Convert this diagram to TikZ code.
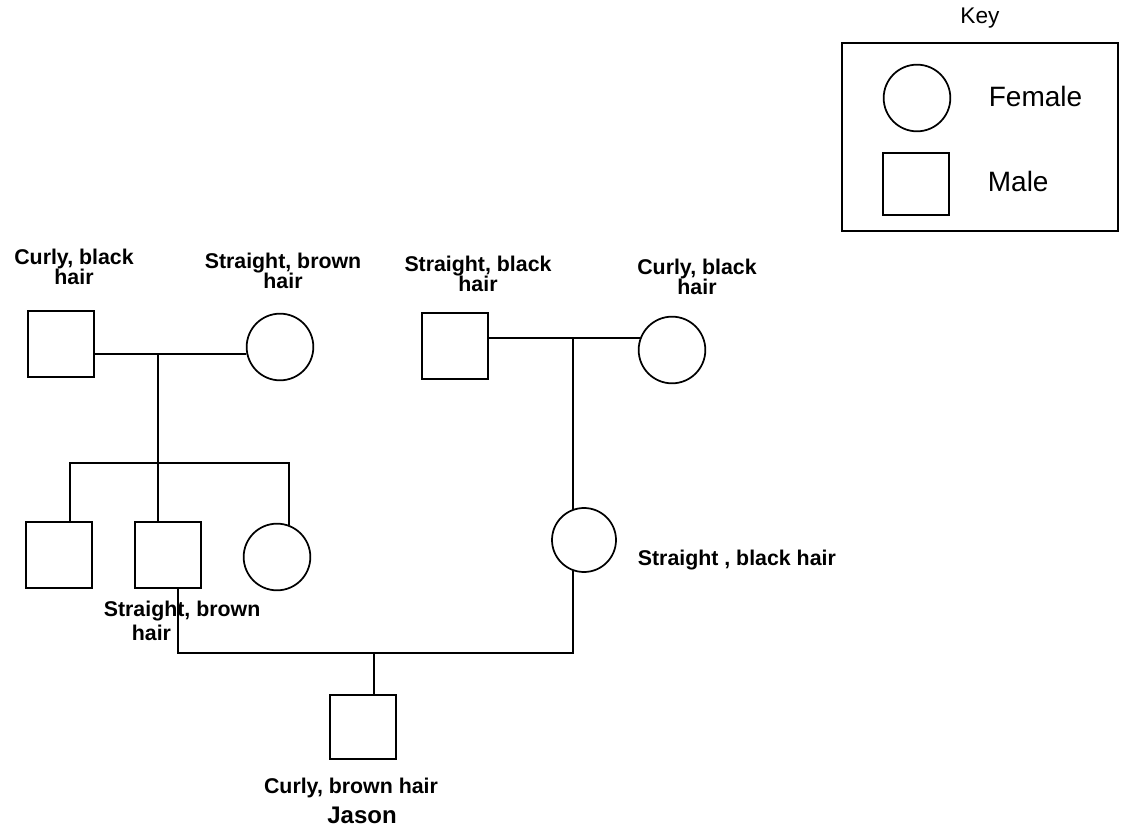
\documentclass[tikz,border=0pt]{standalone}
\usepackage{fontspec}
\setmainfont{Liberation Sans}
\usepackage{tikz}
\begin{document}
\begin{tikzpicture}[x=0.75pt,y=-0.75pt,line width=1.3pt,line cap=round,
  male/.style={draw,rectangle,minimum size=50pt,inner sep=0pt},
  female/.style={draw,circle,minimum size=50pt,inner sep=0pt},
  lbl/.style={font=\fontsize{16}{15}\selectfont\bfseries,align=center,inner sep=0pt}]
\useasboundingbox (0,0) rectangle (1121,831);
\node[font=\fontsize{17}{17}\selectfont] (keyttl) at (980,18) {Key};
\draw (842,43) rectangle (1118,231);
\node[female] (kf) at (917,98) {};
\node[anchor=west,inner sep=0pt,font=\fontsize{21}{21}\selectfont] (kft) at (988,96) {Female};
\node[male,minimum height=47pt] (km) at (916,184) {};
\node[anchor=west,inner sep=0pt,font=\fontsize{21}{21}\selectfont] (kmt) at (987,181) {Male};
\node[male] (A) at (61,344) {};
\node[female] (B) at (280,347) {};
\node[male] (F) at (455,346) {};
\node[female] (G) at (672,350) {};
\node[male,minimum height=49pt] (C) at (59,555) {};
\node[male,minimum height=49pt] (D) at (168,555) {};
\node[female] (E) at (277,557) {};
\node[female,minimum size=48pt] (H) at (584,540) {};
\node[male,minimum height=48pt] (J) at (363,727) {};
\node[lbl] (lA) at (74,267) {Curly, black\\hair};
\node[lbl] (lB) at (283,271) {Straight, brown\\hair};
\node[lbl] (lF) at (478,274) {Straight, black\\hair};
\node[lbl] (lG) at (697,277) {Curly, black\\hair};
\node[lbl,anchor=west,align=left,font=\fontsize{16}{18}\selectfont\bfseries] (lD) at (103,621) {Straight, brown\\\hspace*{21pt}hair};
\node[lbl,anchor=west] (lH) at (637,560) {Straight , black hair};
\node[lbl] (lJ) at (351,788) {Curly, brown hair};
\node[lbl,font=\fontsize{18}{18}\selectfont\bfseries] (jason) at (362,815) {Jason};
\coordinate (m1) at (158,354);
\coordinate (m2) at (573,338);
\coordinate (sL) at (70,463);
\coordinate (sR) at (289,463);
\coordinate (d1) at (178,653);
\coordinate (h1) at (573,653);
\coordinate (j1) at (374,653);
\draw (A.east |- m1) -- (B.west |- m1);
\draw (F.east |- m2) -- ([xshift=1.5pt]G.west |- m2);
\draw (m1) -- (m1 |- D.north);
\draw (sL |- C.north) -- (sL) -- (sR) -- ([yshift=-1.6pt]sR |- E.north);
\draw (m2) -- ([yshift=-1.5pt]m2 |- H.north);
\draw (d1 |- D.south) -- (d1) -- (h1) -- ([yshift=1.5pt]h1 |- H.south);
\draw (j1) -- (j1 |- J.north);
\end{tikzpicture}
\end{document}
